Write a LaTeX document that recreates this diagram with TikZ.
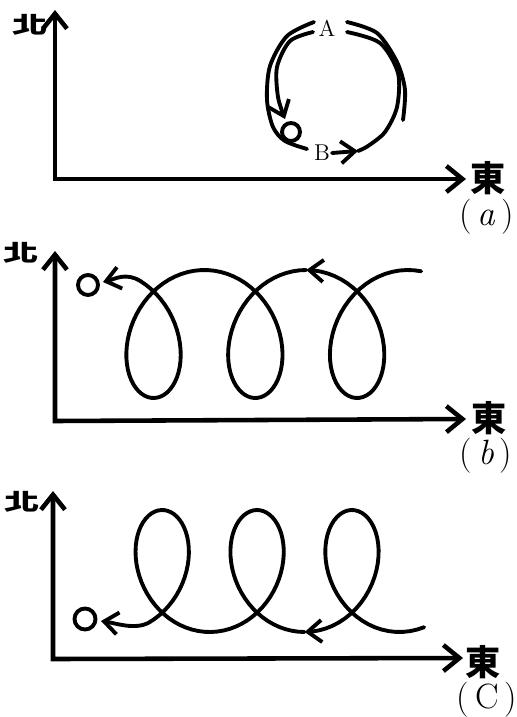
\documentclass[tikz,border=0pt]{standalone}
\usepackage{fontspec}
\newfontfamily\cjk{Noto Sans CJK TC}
\usetikzlibrary{arrows.meta}

\begin{document}
\begin{tikzpicture}[x=0.02cm, y=-0.02cm,
  axis/.style={line width=2.6pt, {Straight Barb[length=3mm, width=4.8mm]}-{Straight Barb[length=3.2mm, width=5.2mm]}},
  track/.style={line width=2.2pt, line cap=round},
  tracktip/.style={track, -{Straight Barb[length=2.8mm, width=4.4mm]}},
  dirlabel/.style={font=\cjk\bfseries\fontsize{20}{20}\selectfont, inner sep=0pt},
  tag/.style={font=\fontsize{20}{20}\selectfont, inner sep=0pt},
  ptlabel/.style={font=\fontsize{13}{13}\selectfont, inner sep=1pt},
  ball/.style={circle, draw, line width=2.2pt, inner sep=0pt, minimum size=0.36cm}]
  \useasboundingbox (0,0) rectangle (517,717);

  % (a) 坐标轴
  \coordinate (a0) at (55,179);
  \coordinate (aN) at (55,10);
  \coordinate (aE) at (466,179);
  \draw[axis] (aN) -- (a0) -- (aE);
  \node[dirlabel] (aNorth) at (30,25) {\scalebox{1}[0.65]{北}};
  \node[dirlabel] (aEast) at (488,178) {東};
  \node[tag] (aTag) at (487,217) {(\,\textit{a}\,)};

  % (a) 圆周运动
  \node[ptlabel] (A) at (327,28) {A};
  \node[ptlabel] (B) at (322,153) {B};
  \node[ball] (aO) at (291,132) {};
  \coordinate (aBtip) at (358,151);
  \draw[track] plot[smooth] coordinates {(314,22) (287,36) (270,66) (267,100) (273,127) (285,141) (307,149)};
  \draw[tracktip] plot[smooth] coordinates {(313,32) (290,41) (277,67) (278,97) (285,119)};
  \draw[track] plot[smooth] coordinates {(347,22) (377,33) (397,62) (405,90) (403,120)};
  \draw[tracktip] (B.east) -- (aBtip);
  \draw[track] plot[smooth] coordinates {(aBtip) (368,146) (385,132) (397,107) (398,73) (380,43) (347,32)};

  % (b) 坐标轴
  \coordinate (b0) at (55,421);
  \coordinate (bN) at (55,251);
  \coordinate (bE) at (466,419);
  \draw[axis] (bN) -- (b0) -- (bE);
  \node[dirlabel] (bNorth) at (21,253) {\scalebox{1}[0.65]{北}};
  \node[dirlabel] (bEast) at (489,418) {東};
  \node[tag] (bTag) at (486,456) {(\,\textit{b}\,)};

  % (b) 向西漂移，环向下
  \node[ball, minimum size=0.4cm] (bO) at (88,285) {};
  \coordinate (bEnd) at (103,282);
  \draw[tracktip] plot[domain=-0.2:2*pi, samples=60, variable=\t]
    ({408-16.2*\t-50*sin(\t r)}, {334-64*cos(\t r)});
  \draw[tracktip] plot[domain=2*pi:18.25, samples=120, variable=\t]
    ({408-16.2*\t-50*sin(\t r)}, {334-64*cos(\t r)}) .. controls (126,272) and (115,279) .. (bEnd);

  % (c) 坐标轴
  \coordinate (c0) at (53,659);
  \coordinate (cN) at (53,491);
  \coordinate (cE) at (463,658);
  \draw[axis] (cN) -- (c0) -- (cE);
  \node[dirlabel] (cNorth) at (22,502) {\scalebox{1}[0.65]{北}};
  \node[dirlabel] (cEast) at (483,662) {東};
  \node[tag] (cTag) at (487,700) {(\,C\,)};

  % (c) 向西漂移，环向上
  \node[ball, minimum size=0.42cm] (cO) at (85,619) {};
  \coordinate (cEnd) at (101,621);
  \draw[tracktip] plot[domain=-0.4:2*pi, samples=60, variable=\t]
    ({399.4-15.1*\t-48*sin(\t r)}, {571+61*cos(\t r)});
  \draw[tracktip] plot[domain=2*pi:18.3, samples=120, variable=\t]
    ({399.4-15.1*\t-48*sin(\t r)}, {571+61*cos(\t r)}) .. controls (134,630) and (115,623) .. (cEnd);
\end{tikzpicture}
\end{document}
